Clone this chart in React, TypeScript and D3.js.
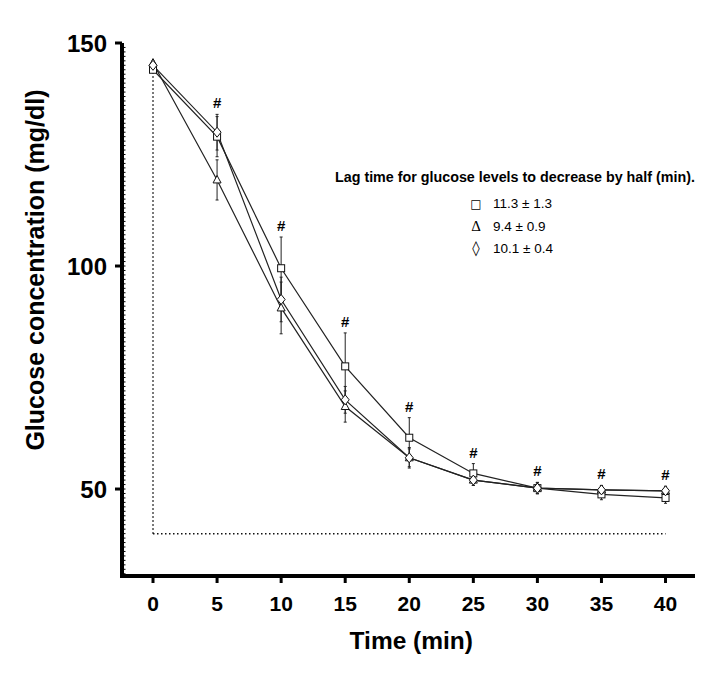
import React from "react";
import * as d3 from "d3";

const times = [0, 5, 10, 15, 20, 25, 30, 35, 40];
const squareMean = [144, 129, 99.5, 77.5, 61.5, 53.5, 50.2, 48.8, 48];
const squareSd = [0.5, 4.5, 7, 7.5, 4.5, 2.2, 1.3, 1.2, 1.2];
const triangleMean = [145.5, 119.3, 90.6, 68.5, 57, 52, 50.2, 49.8, 49.6];
const triangleSd = [0.5, 4.5, 5.8, 3.5, 2.3, 1.2, 1.2, 1.0, 1.0];
const diamondMean = [145, 130, 92.5, 70, 57, 52, 50.2, 49.8, 49.6];
const diamondSd = [0.5, 4, 5, 3, 2, 1.2, 1.2, 1.0, 1.0];
const hashTimes = [5, 10, 15, 20, 25, 30, 35, 40];
const yTicks = [50, 100, 150];
const xTicks = [0, 5, 10, 15, 20, 25, 30, 35, 40];
const legendTitle = "Lag time for glucose levels to decrease by half (min).";
const legendLabels = ["11.3 ± 1.3", "9.4 ± 0.9", "10.1 ± 0.4"];
const legendSymbols = ["□", "Δ", "◊"];
const baseline = 40;

const W = 724;
const H = 675;

export default function App() {
  const x = d3.scaleLinear().domain([-2.42, 42.3]).range([122, 695]);
  const y = d3.scaleLinear().domain([30.5, 150]).range([576, 43]);
  const line = d3
    .line<[number, number]>()
    .x((d) => x(d[0]))
    .y((d) => y(d[1]));

  const series = [
    { mean: squareMean, sd: squareSd, kind: "square" },
    { mean: triangleMean, sd: triangleSd, kind: "triangle" },
    { mean: diamondMean, sd: diamondSd, kind: "diamond" },
  ];

  const marker = (kind: string, cx: number, cy: number, key: string) => {
    if (kind === "square")
      return <rect key={key} x={cx - 3.5} y={cy - 3.5} width={7} height={7} fill="white" stroke="#111" strokeWidth={1} />;
    if (kind === "triangle") {
      const p = d3.path();
      p.moveTo(cx, cy - 4.5);
      p.lineTo(cx + 4, cy + 3);
      p.lineTo(cx - 4, cy + 3);
      p.closePath();
      return <path key={key} d={p.toString()} fill="white" stroke="#111" strokeWidth={1} />;
    }
    const p = d3.path();
    p.moveTo(cx, cy - 5);
    p.lineTo(cx + 4, cy);
    p.lineTo(cx, cy + 5);
    p.lineTo(cx - 4, cy);
    p.closePath();
    return <path key={key} d={p.toString()} fill="white" stroke="#111" strokeWidth={1} />;
  };

  const font = "'Liberation Sans', Arial, sans-serif";
  const minorTicks = d3.range(31, 150, 1);

  return (
    <svg width={W} height={H} style={{ position: "absolute", left: 0, top: 0, background: "white" }}>
      <rect x={0} y={0} width={W} height={H} fill="white" />
      {/* dotted reference lines */}
      <line x1={x(0)} x2={x(0)} y1={y(baseline)} y2={y(145)} stroke="#111" strokeWidth={1.5} strokeDasharray="1.5,2.5" />
      <line x1={x(0)} x2={x(40)} y1={y(baseline)} y2={y(baseline)} stroke="#111" strokeWidth={1.5} strokeDasharray="1.5,2.5" />

      {/* axes */}
      <line x1={122} x2={122} y1={y(150)} y2={578} stroke="#000" strokeWidth={4} />
      {minorTicks.map((v) => (
        <line key={"mt" + v} x1={124} x2={125.5} y1={y(v)} y2={y(v)} stroke="#000" strokeWidth={1} />
      ))}
      {yTicks.map((v) => (
        <g key={"yt" + v}>
          <line x1={115} x2={122} y1={y(v)} y2={y(v)} stroke="#000" strokeWidth={3} />
          <text x={107} y={y(v) + 8.5} textAnchor="end" fontFamily={font} fontWeight="bold" fontSize={24}>
            {v}
          </text>
        </g>
      ))}
      <line x1={120} x2={695} y1={576} y2={576} stroke="#000" strokeWidth={4} />
      {xTicks.map((v) => (
        <g key={"xt" + v}>
          <line x1={x(v)} x2={x(v)} y1={576} y2={583} stroke="#000" strokeWidth={3} />
          <text x={x(v)} y={611} textAnchor="middle" fontFamily={font} fontWeight="bold" fontSize={21}>
            {v}
          </text>
        </g>
      ))}
      <text x={x(20) + 2} y={649} textAnchor="middle" fontFamily={font} fontWeight="bold" fontSize={24.5}>
        Time (min)
      </text>
      <text
        transform={`translate(44, 270) rotate(-90)`}
        textAnchor="middle"
        fontFamily={font}
        fontWeight="bold"
        fontSize={25}
      >
        Glucose concentration (mg/dl)
      </text>

      {/* lines */}
      {series.map((s, i) => (
        <path
          key={"l" + i}
          d={line(times.map((t, j) => [t, s.mean[j]] as [number, number])) || ""}
          fill="none"
          stroke="#222"
          strokeWidth={1.2}
        />
      ))}
      {/* error bars */}
      {series.map((s, i) =>
        times.map((t, j) => (
          <g key={"e" + i + "-" + j}>
            <line x1={x(t)} x2={x(t)} y1={y(s.mean[j] - s.sd[j])} y2={y(s.mean[j] + s.sd[j])} stroke="#222" strokeWidth={1} />
            <line x1={x(t) - 1.5} x2={x(t) + 1.5} y1={y(s.mean[j] + s.sd[j])} y2={y(s.mean[j] + s.sd[j])} stroke="#222" strokeWidth={1} />
            <line x1={x(t) - 1.5} x2={x(t) + 1.5} y1={y(s.mean[j] - s.sd[j])} y2={y(s.mean[j] - s.sd[j])} stroke="#222" strokeWidth={1} />
          </g>
        ))
      )}
      {/* markers */}
      {series.map((s, i) => times.map((t, j) => marker(s.kind, x(t), y(s.mean[j]), "m" + i + "-" + j)))}

      {/* significance marks */}
      {hashTimes.map((t) => {
        const j = times.indexOf(t);
        const top = Math.max(...series.map((s) => s.mean[j] + s.sd[j]));
        return (
          <text key={"h" + t} x={x(t)} y={y(top) - 6} textAnchor="middle" fontFamily={font} fontWeight="bold" fontSize={15}>
            #
          </text>
        );
      })}

      {/* legend */}
      <text x={335} y={182} fontFamily={font} fontWeight="bold" fontSize={14.3}>
        {legendTitle}
      </text>
      {legendLabels.map((lab, i) => (
        <g key={"lg" + i}>
          <text
            x={476}
            y={208 + i * 22.5}
            textAnchor="middle"
            fontFamily={i === 1 ? "'Liberation Serif', serif" : "'DejaVu Sans', sans-serif"}
            fontSize={i === 0 ? 12 : 15}
          >
            {legendSymbols[i]}
          </text>
          <text x={493} y={208 + i * 22.5} fontFamily={font} fontSize={13.5}>
            {lab}
          </text>
        </g>
      ))}
    </svg>
  );
}
